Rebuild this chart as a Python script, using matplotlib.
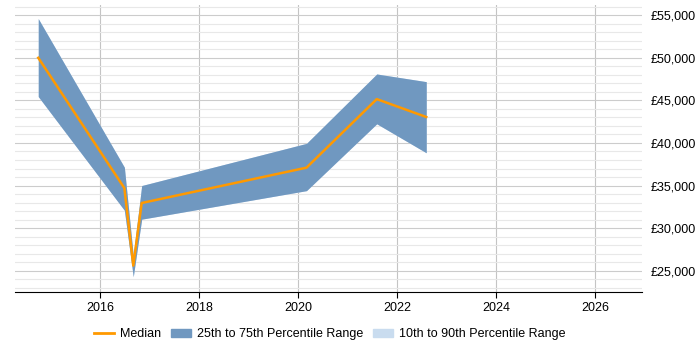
import matplotlib.pyplot as plt
from matplotlib.ticker import MultipleLocator, FuncFormatter
from matplotlib.patches import Patch
from matplotlib.lines import Line2D

plt.rcParams['font.family'] = ['Liberation Sans', 'DejaVu Sans']

# data
years = [2014.75, 2016.49, 2016.67, 2016.84, 2020.17, 2021.59, 2022.59]
median = [50000, 34700, 25600, 32950, 37100, 45150, 43050]
p25 = [45450, 32100, 24300, 31050, 34400, 42250, 38850]
p75 = [54600, 37150, 26800, 35000, 39950, 48100, 47200]
p10 = p25
p90 = p75

fig = plt.figure(figsize=(7, 3.5), dpi=100)
ax = fig.add_axes([15 / 700, 58 / 350, 627 / 700, 287 / 350])

ax.fill_between(years, p10, p90, color="#c9dcef", lw=0)
ax.fill_between(years, p25, p75, color="#7098c0", lw=0)
ax.plot(years, median, color="#ff9900", lw=1.8)

ax.set_xlim(2014.28, 2026.95)
ax.set_ylim(22500, 56200)
ax.xaxis.set_major_locator(MultipleLocator(2))
ax.yaxis.set_major_locator(MultipleLocator(5000))
ax.yaxis.set_minor_locator(MultipleLocator(1000))
ax.yaxis.set_major_formatter(FuncFormatter(lambda v, p: "£{:,.0f}".format(v)))
ax.yaxis.tick_right()
ax.tick_params(axis="y", which="both", length=0, labelsize=9, pad=6)
ax.tick_params(axis="x", length=4, labelsize=9, color="black")
ax.grid(axis="y", which="major", color="#cccccc", lw=0.8)
ax.grid(axis="y", which="minor", color="#e8e8e8", lw=0.8)
ax.grid(axis="x", which="major", color="#c4c4c4", lw=0.8)
ax.set_axisbelow(True)
for s in ["top", "left", "right"]:
    ax.spines[s].set_visible(False)
ax.spines["bottom"].set_color("black")

handles = [
    Line2D([], [], color="#ff9900", lw=2),
    Patch(color="#7098c0"),
    Patch(color="#c9dcef"),
]
labels = ["Median", "25th to 75th Percentile Range", "10th to 90th Percentile Range"]
fig.legend(handles, labels, loc="center", bbox_to_anchor=(0.471, 0.045), ncol=3,
           frameon=False, fontsize=9, handlelength=1.6, handletextpad=0.45,
           columnspacing=0.8)

fig.savefig("out.png")
